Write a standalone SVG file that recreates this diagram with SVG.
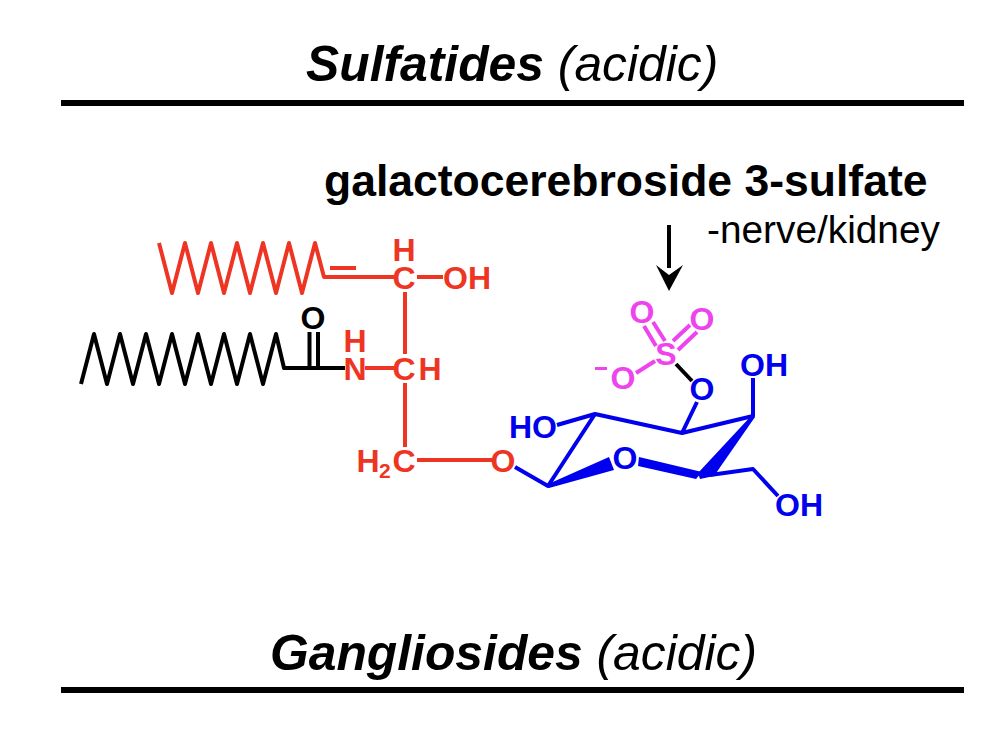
<svg xmlns="http://www.w3.org/2000/svg" width="1000" height="730" viewBox="0 0 1000 730">
<style>
text{font-family:"Liberation Sans",Arial,sans-serif}
.h{font-size:49.800px;text-anchor:start}
.b{font-weight:700;font-style:italic}
.i{font-style:italic}
.a{font-size:32px;font-weight:700;text-anchor:middle}
.l{fill:none;stroke-width:4;stroke-linejoin:round;stroke-linecap:butt}
.red{fill:#EE3524}.blue{fill:#0000EE}.mag{fill:#EE44EE}.blk{fill:#000}
.sr{stroke:#EE3524}.sb{stroke:#0000EE}.sm{stroke:#EE44EE}.sk{stroke:#000}
</style>
<rect width="1000" height="730" fill="#fff"/>
<g id="heading-sulfatides">
<text class="h" x="306" y="81"><tspan class="b">Sulfatides</tspan><tspan class="i"> (acidic)</tspan></text>
<rect x="61" y="100" width="903" height="6"/>
</g>
<g id="heading-gangliosides">
<text class="h" x="270" y="670"><tspan class="b">Gangliosides</tspan><tspan class="i"> (acidic)</tspan></text>
<rect x="61" y="687" width="903" height="6"/>
</g>
<g id="label-name">
<text x="324" y="196" font-size="44.500" font-weight="700">galactocerebroside 3-sulfate</text>
<text x="707" y="243" font-size="38.800">-nerve/kidney</text>
</g>
<g id="connectors">
<path class="l sr" d="M159 243L172 293L185 243L198 293L211 243L224 293L237 243L250 293L263 243L276 293L289 243L302 293L315 243L324 277L394 277M330 268H356M417 277H443M405 292V354M365 368H394M405 383V447M417 460H492"/>
<path class="l sk" d="M81 384L94 334L107 384L120 334L133 384L146 334L159 384L172 334L185 384L198 334L211 384L224 334L237 384L250 334L263 384L276 334L284 368H345M309.500 332V368M318 332V368"/>
<path class="l sm" d="M644 326L656 346M653 322L665 341M673 341L690 325M678 350L697 332M655 361L636 373"/>
<path class="l sk" d="M676 364L692 381"/>
<path class="l sb" d="M697 402L682 433M557 425L595 414L682 433L753 416V378M595 414L548 486L515 467M710 475L753 469L778 496"/>
<polygon class="blue" points="546,485 609,457 614,470 549,488"/>
<polygon class="blue" points="639,457 702,472 696,479 638,466"/>
<polygon class="blue" points="752,415 698,473 700,479 714,476 755,417"/>
<path d="M669 225V268" stroke="#000" stroke-width="4" fill="none"/>
<polygon class="blk" points="669,291 656,265 669,275 683,265"/>
</g>
<g id="atoms-sphingosine">
<text class="a red" x="404" y="261">H</text>
<text class="a red" x="404" y="289">C</text>
<text class="a red" x="467" y="289">OH</text>
<text class="a red" x="355" y="352">H</text>
<text class="a red" x="355" y="380">N</text>
<text class="a red" x="404" y="380">C</text>
<text class="a red" x="430" y="380">H</text>
<text class="a red" x="368" y="472">H</text>
<text class="red" x="379" y="478" font-size="21" font-weight="700">2</text>
<text class="a red" x="404" y="472">C</text>
<text class="a red" x="503" y="472">O</text>
</g>
<g id="atoms-amide">
<text class="a blk" x="313" y="329">O</text>
</g>
<g id="atoms-sulfate">
<text class="a mag" x="642" y="323">O</text>
<text class="a mag" x="702" y="330">O</text>
<text class="a mag" x="666" y="365">S</text>
<text class="a mag" x="623" y="389">O</text>
<rect class="mag" x="595" y="367" width="12" height="3"/>
</g>
<g id="atoms-galactose">
<text class="a blue" x="702" y="400">O</text>
<text class="a blue" x="764" y="376">OH</text>
<text class="a blue" x="533" y="438">HO</text>
<text class="a blue" x="625" y="469">O</text>
<text class="a blue" x="799" y="516">OH</text>
</g>
</svg>
